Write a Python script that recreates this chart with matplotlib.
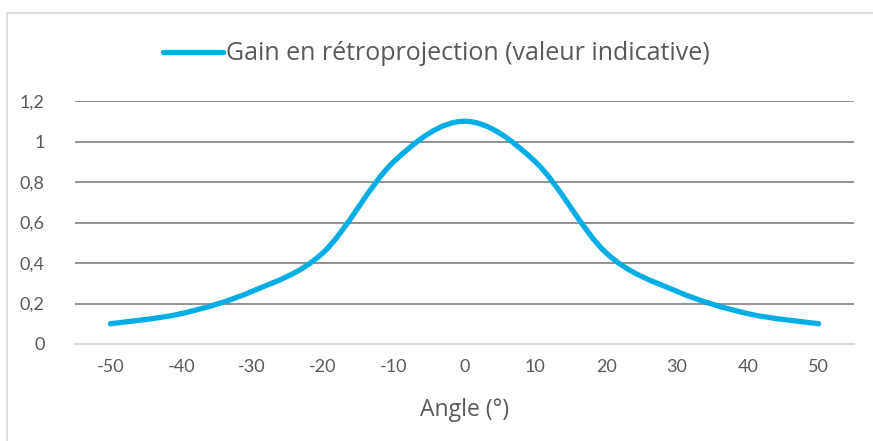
import matplotlib
matplotlib.use("Agg")
import matplotlib.pyplot as plt
from matplotlib.path import Path
from matplotlib.patches import PathPatch, Rectangle
from matplotlib.lines import Line2D

# Data
angles = [-50, -40, -30, -20, -10, 0, 10, 20, 30, 40, 50]
gain = [0.10, 0.15, 0.26, 0.45, 0.90, 1.10, 0.90, 0.45, 0.26, 0.15, 0.10]
y_ticks = [0, 0.2, 0.4, 0.6, 0.8, 1.0, 1.2]
y_labels = ["0", "0,2", "0,4", "0,6", "0,8", "1", "1,2"]
series_name = "Gain en rétroprojection (valeur indicative)"
x_title = "Angle (°)"

line_col = "#00ADE4"
grid_col = "#7F7F7F"
tick_col = "#595959"
text_col = "#595959"

W, H = 873, 441
fig = plt.figure(figsize=(W / 100, H / 100), dpi=100)

# chart area border (only top/left visible in crop)
fig.patches.append(Rectangle((7 / W, -0.1), 1.2, 1 - 12.5 / H + 0.1,
                             transform=fig.transFigure, fill=False,
                             edgecolor="#D9D9D9", linewidth=1.2))

left, right, top, bottom = 75, 854, 101, 344
ax = fig.add_axes([left / W, 1 - bottom / H, (right - left) / W, (bottom - top) / H])

# smoothed line (Excel-style Catmull-Rom bezier through the points)
verts = [(angles[0], gain[0])]
codes = [Path.MOVETO]
n = len(angles)
for i in range(n - 1):
    p0 = (angles[max(i - 1, 0)], gain[max(i - 1, 0)])
    p1 = (angles[i], gain[i])
    p2 = (angles[i + 1], gain[i + 1])
    p3 = (angles[min(i + 2, n - 1)], gain[min(i + 2, n - 1)])
    c1 = (p1[0] + (p2[0] - p0[0]) / 6, p1[1] + (p2[1] - p0[1]) / 6)
    c2 = (p2[0] - (p3[0] - p1[0]) / 6, p2[1] - (p3[1] - p1[1]) / 6)
    verts += [c1, c2, p2]
    codes += [Path.CURVE4] * 3
ax.add_patch(PathPatch(Path(verts, codes), fill=False, edgecolor=line_col,
                       linewidth=3.8, capstyle="round", joinstyle="round", zorder=3))

ax.set_xlim(-55, 55)
ax.set_ylim(0, 1.2)
ax.set_xticks(angles)
ax.set_xticklabels([str(a) for a in angles])
ax.set_yticks(y_ticks)
ax.set_yticklabels(y_labels)
ax.tick_params(length=0, colors=tick_col, labelsize=13, pad=11)
for lab in ax.get_xticklabels() + ax.get_yticklabels():
    lab.set_family(["Lato", "DejaVu Sans"])
ax.tick_params(axis="y", pad=22)
ax.yaxis.grid(True, color=grid_col, linewidth=1.2)
ax.set_axisbelow(True)
for s in ["left", "right", "top"]:
    ax.spines[s].set_visible(False)
ax.spines["bottom"].set_color("#D9D9D9")
ax.spines["bottom"].set_linewidth(1.5)
ax.spines["bottom"].set_zorder(1)

ax.set_xlabel(x_title, fontsize=16.5, color=text_col, family=["Open Sans", "DejaVu Sans"],
              labelpad=16)

handle = Line2D([], [], color=line_col, linewidth=3.8, solid_capstyle="round")
leg = fig.legend([handle], [series_name], loc="center", bbox_to_anchor=(0.5, 1 - 54 / H),
                 frameon=False, handlelength=2.4, handletextpad=0.1,
                 prop={"family": ["Open Sans", "DejaVu Sans"], "size": 18})
for t in leg.get_texts():
    t.set_color(text_col)

fig.savefig("out.png", dpi=100)
